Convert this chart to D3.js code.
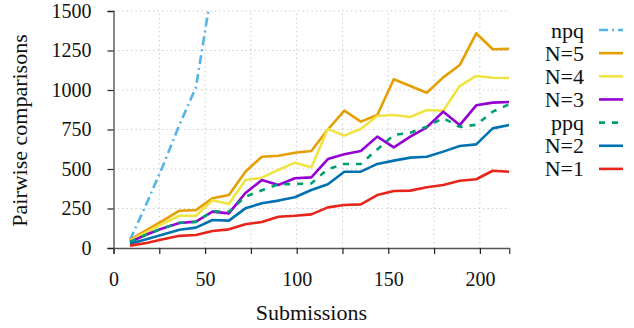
<!DOCTYPE html>
<html>
<head>
<meta charset="utf-8">
<script src="https://cdn.jsdelivr.net/npm/d3@7"></script>
<style>
    body { margin: 0; background: #fff; }
</style>
</head>
<body>
<div id="chart"></div>
<script>
//Chart data
var submissions = [9, 18, 27, 36, 45, 54, 63, 72, 81, 90, 99, 108, 117, 126, 135, 144, 153, 162, 171, 180, 189, 198, 207, 216];
var npq = [50, 280, 520, 780, 1017, 1660];
var n5 = [52, 113, 174, 236, 240, 315, 335, 483, 578, 584, 603, 614, 750, 869, 800, 842, 1068, 1025, 983, 1080, 1158, 1359, 1258, 1260];
var n4 = [45, 100, 155, 204, 204, 302, 278, 430, 445, 494, 540, 511, 753, 711, 753, 835, 842, 829, 873, 869, 1025, 1089, 1078, 1076];
var n3 = [38, 85, 125, 158, 167, 230, 219, 348, 430, 399, 441, 447, 563, 593, 614, 705, 637, 705, 764, 863, 778, 903, 920, 924];
var ppq = [38, 85, 125, 160, 165, 232, 230, 325, 365, 403, 405, 409, 500, 532, 532, 624, 715, 730, 768, 822, 766, 780, 863, 910];
var n2 = [27, 55, 85, 116, 129, 177, 173, 251, 283, 300, 321, 367, 403, 483, 483, 532, 553, 572, 578, 610, 646, 656, 757, 778];
var n1 = [15, 32, 55, 77, 82, 108, 118, 150, 165, 198, 204, 213, 257, 272, 276, 335, 361, 363, 384, 399, 426, 435, 489, 483];

var seriesNames = ["npq", "N=5", "N=4", "N=3", "ppq", "N=2", "N=1"];
var seriesValues = [npq, n5, n4, n3, ppq, n2, n1];
var seriesColors = ["#56B4E9", "#E69F00", "#F0E442", "#9400D3", "#009E73", "#0072B2", "#E8251A"];
var seriesDash = ["9,4,2,4", null, null, null, "6,7", null, null];

var xTicks = [0, 25, 50, 75, 100, 125, 150, 175, 200];
var yTicks = [0, 250, 500, 750, 1000, 1250, 1500];

var serif = "Liberation Serif";
var width = 634;
var height = 328;

var svg = d3.select("#chart")
    .append("svg")
    .attr("width", width)
    .attr("height", height)
    .attr("font-family", serif)
    .style("background", "#fff");

var x = d3.scaleLinear().domain([0, 216]).range([113.5, 509.2]);
var y = d3.scaleLinear().domain([0, 1500]).range([248, 11]);

svg.append("clipPath")
    .attr("id", "plot-clip")
    .append("rect")
    .attr("x", x(0))
    .attr("y", y(1500))
    .attr("width", x(216) - x(0))
    .attr("height", y(0) - y(1500));

//Dotted grid
svg.append("g")
    .selectAll("line")
    .data(yTicks.slice(1))
    .enter()
    .append("line")
    .attr("x1", x(0))
    .attr("x2", x(216))
    .attr("y1", function(d) { return y(d); })
    .attr("y2", function(d) { return y(d); })
    .attr("stroke", "#c4c4c4")
    .attr("stroke-width", 1)
    .attr("stroke-dasharray", "1.2,3.2");

svg.append("g")
    .selectAll("line")
    .data(xTicks.slice(1))
    .enter()
    .append("line")
    .attr("x1", function(d) { return x(d); })
    .attr("x2", function(d) { return x(d); })
    .attr("y1", y(0))
    .attr("y2", y(1500))
    .attr("stroke", "#c4c4c4")
    .attr("stroke-width", 1)
    .attr("stroke-dasharray", "1.2,3.2");

//Axes
var xAxis = svg.append("g")
    .attr("transform", "translate(0," + y(0) + ")")
    .call(d3.axisBottom(x)
        .tickValues(xTicks)
        .tickSize(6)
        .tickPadding(18)
        .tickFormat(function(d) { return d % 50 == 0 ? String(d) : ""; }));

var yAxis = svg.append("g")
    .attr("transform", "translate(" + x(0) + ",0)")
    .call(d3.axisLeft(y)
        .tickValues(yTicks)
        .tickSize(6)
        .tickPadding(16)
        .tickFormat(d3.format("d")));

[xAxis, yAxis].forEach(function(a) {
    a.attr("font-family", serif).attr("font-size", 20);
    a.select(".domain").attr("stroke", "#555").attr("stroke-width", 1.4);
    a.selectAll(".tick line").attr("stroke", "#222").attr("stroke-width", 1.2);
    a.selectAll(".tick text").attr("fill", "#111");
});

//Axis titles
svg.append("text")
    .attr("x", (x(0) + x(216)) / 2)
    .attr("y", 320)
    .attr("text-anchor", "middle")
    .attr("font-size", 22)
    .attr("fill", "#111")
    .text("Submissions");

svg.append("text")
    .attr("transform", "translate(27," + (y(750) + 1) + ") rotate(-90)")
    .attr("text-anchor", "middle")
    .attr("font-size", 22)
    .attr("fill", "#111")
    .text("Pairwise comparisons");

//Lines
var line = d3.line()
    .x(function(d) { return x(d[0]); })
    .y(function(d) { return y(d[1]); });

svg.append("g")
    .attr("clip-path", "url(#plot-clip)")
    .selectAll("path")
    .data(seriesValues)
    .enter()
    .append("path")
    .attr("d", function(vals) {
        return line(vals.map(function(v, i) { return [submissions[i], v]; }));
    })
    .attr("fill", "none")
    .attr("stroke", function(d, i) { return seriesColors[i]; })
    .attr("stroke-width", 2.6)
    .attr("stroke-linejoin", "round")
    .attr("stroke-dasharray", function(d, i) { return seriesDash[i]; });

//Legend
var legend = svg.append("g")
    .selectAll("g")
    .data(seriesNames)
    .enter()
    .append("g")
    .attr("transform", function(d, i) { return "translate(0," + (30 + i * 23.15) + ")"; });

legend.append("text")
    .attr("x", 584)
    .attr("y", 7.5)
    .attr("text-anchor", "end")
    .attr("font-size", 22)
    .attr("fill", "#111")
    .text(function(d) { return d; });

legend.append("line")
    .attr("x1", 599)
    .attr("x2", 623)
    .attr("stroke", function(d, i) { return seriesColors[i]; })
    .attr("stroke-width", 2.6)
    .attr("stroke-dasharray", function(d, i) { return seriesDash[i]; });
</script>
</body>
</html>
